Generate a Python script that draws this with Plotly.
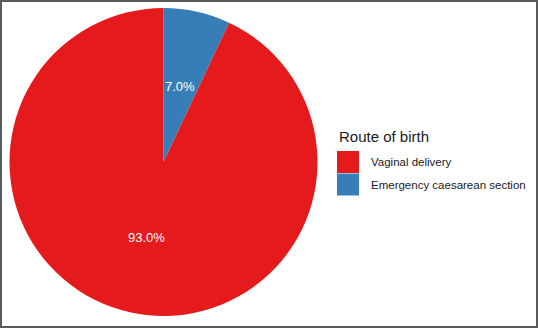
import math
import plotly.graph_objects as go

# ---- data ----
categories = ["Vaginal delivery", "Emergency caesarean section"]
values = [93.0, 7.0]
colors = ["#E41A1C", "#377EB8"]
legend_title = "Route of birth"

W, H = 538, 328
# pie geometry (pixels)
cx, cy, r = 163.5, 162.0, 154.0

# slice order drawn clockwise from 12 o'clock: caesarean first, then vaginal
order = [1, 0]
pie_labels = [categories[i] for i in order]
pie_values = [values[i] for i in order]
pie_colors = [colors[i] for i in order]

fig = go.Figure(go.Pie(
    labels=pie_labels,
    values=pie_values,
    marker=dict(colors=pie_colors, line=dict(width=0)),
    sort=False,
    direction="clockwise",
    rotation=0,
    textinfo="none",
    hoverinfo="label+percent",
    showlegend=False,
    domain=dict(x=[(cx - r) / W, (cx + r) / W], y=[1 - (cy + r) / H, 1 - (cy - r) / H]),
))

annotations = []
total = sum(pie_values)
start = 0.0
for lab, v in zip(pie_labels, pie_values):
    frac = v / total
    mid = (start + frac / 2) * 2 * math.pi
    start += frac
    px = cx + 0.5 * r * math.sin(mid)
    py = cy - 0.5 * r * math.cos(mid)
    annotations.append(dict(
        x=px / W, y=1 - py / H, xref="paper", yref="paper",
        text=f"{v / total * 100:.1f}%", showarrow=False,
        font=dict(family="Liberation Sans, Arial", size=13, color="white"),
        xanchor="center", yanchor="middle",
    ))

# manual legend
lx, ly_title = 337, 136.5
annotations.append(dict(
    x=lx / W, y=1 - ly_title / H, xref="paper", yref="paper",
    text=legend_title, showarrow=False, xanchor="left", yanchor="middle",
    font=dict(family="Liberation Sans, Arial", size=15, color="#1a1a1a"),
))
shapes = []
sw, sh, sy0 = 22, 22.5, 151
for k, (lab, col) in enumerate(zip(categories, colors)):
    y0 = sy0 + k * sh
    shapes.append(dict(
        type="rect", xref="paper", yref="paper",
        x0=lx / W, x1=(lx + sw) / W, y0=1 - y0 / H, y1=1 - (y0 + sh - 0.5) / H,
        fillcolor=col, line=dict(width=0),
    ))
    annotations.append(dict(
        x=369 / W, y=1 - (y0 + sh / 2) / H, xref="paper", yref="paper",
        text=lab, showarrow=False, xanchor="left", yanchor="middle",
        font=dict(family="Liberation Sans, Arial", size=11.5, color="#1a1a1a"),
    ))

# outer border
shapes.append(dict(
    type="rect", xref="paper", yref="paper",
    x0=1 / W, x1=1 - 1 / W, y0=1 / H, y1=1 - 1 / H,
    line=dict(color="#5a5a5a", width=2), fillcolor="rgba(0,0,0,0)",
))

fig.update_layout(
    width=W, height=H,
    margin=dict(l=0, r=0, t=0, b=0),
    paper_bgcolor="white", plot_bgcolor="white",
    annotations=annotations, shapes=shapes,
)

fig.write_html(
    "out.html",
    config={"displayModeBar": False},
    post_script="document.body.style.margin='0';document.body.style.padding='0';document.body.style.overflow='hidden';",
)
